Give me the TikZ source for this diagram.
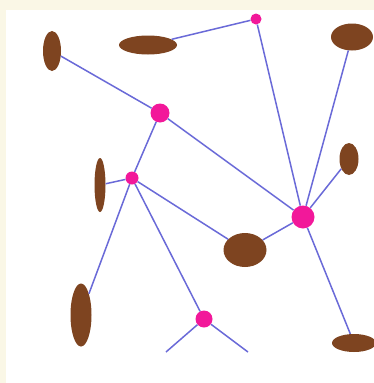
\documentclass[tikz,border=0pt]{standalone}
\definecolor{cream}{HTML}{FAF7E6}
\definecolor{edgeblue}{HTML}{6A6AD8}
\definecolor{hubpink}{HTML}{F2189A}
\definecolor{leafbrown}{HTML}{7E4420}
\tikzset{
  hub/.style={circle, fill=hubpink, inner sep=0pt, minimum size=#1},
  leaf/.style args={#1/#2}{ellipse, fill=leafbrown, inner sep=0pt, minimum width=#1, minimum height=#2},
  link/.style={draw=edgeblue, line width=1.5pt},
}
\usetikzlibrary{shapes.geometric}
\begin{document}
\begin{tikzpicture}[x=1pt,y=-1pt]
\fill[cream] (0,0) rectangle (374,383);
\fill[white] (6,10) rectangle (374,383);
\useasboundingbox (0,0) rectangle (374,383);
% leaves
\node[leaf=18pt/40pt] (A) at (52,51) {};
\node[leaf=58pt/19pt] (B) at (148,45) {};
\node[leaf=42pt/27pt] (D) at (352,37) {};
\node[leaf=19pt/32pt] (F) at (349,159) {};
\node[leaf=11pt/54pt] (H) at (100,185) {};
\node[leaf=43pt/34pt] (J) at (245,250) {};
\node[leaf=21pt/63pt] (K) at (81,315) {};
\node[leaf=44pt/18pt] (M) at (354,343) {};
% hubs
\node[hub=11pt] (C) at (256,19) {};
\node[hub=19pt] (E) at (160,113) {};
\node[hub=13pt] (G) at (132,178) {};
\node[hub=23pt] (I) at (303,217) {};
\node[hub=17pt] (L) at (204,319) {};
\coordinate (L1) at (166,352);
\coordinate (L2) at (248,352);
% links
\draw[link] (A) -- (E);
\draw[link] (B) -- (C);
\draw[link] (C) -- (I);
\draw[link] (D) -- (I);
\draw[link] (E) -- (I);
\draw[link] (E) -- (G);
\draw[link] (G) -- (H);
\draw[link] (G) -- (K);
\draw[link] (G) -- (J);
\draw[link] (G) -- (L);
\draw[link] (J) -- (I);
\draw[link] (F) -- (I);
\draw[link] (I) -- (M);
\draw[link] (L) -- (L1);
\draw[link] (L) -- (L2);
\end{tikzpicture}
\end{document}
